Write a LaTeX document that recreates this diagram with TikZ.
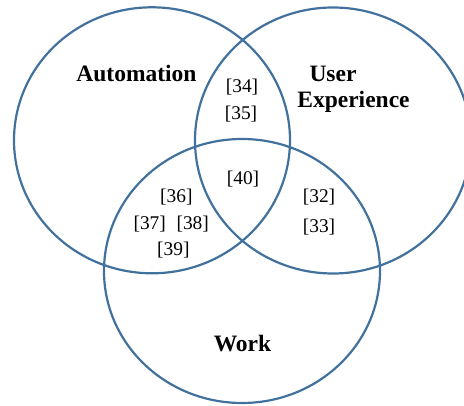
\documentclass[tikz,border=0pt]{standalone}
\usepackage{fontspec}
\setmainfont{Liberation Serif}
\definecolor{vennblue}{RGB}{65,113,156}
\begin{document}
\begin{tikzpicture}[x=1pt,y=1pt,
  venn/.style={draw=vennblue, line width=2.2pt},
  setlabel/.style={font=\fontsize{23.5}{27}\selectfont\bfseries, anchor=base, inner sep=0pt},
  ref/.style={font=\fontsize{19.4}{23}\selectfont, anchor=base, inner sep=0pt}]
\useasboundingbox (0,0) rectangle (464,405);
% circles (image y measured downwards: y_tikz = 405 - y_img)
\coordinate (cA) at (152,264.7);
\coordinate (cU) at (333,264.5);
\coordinate (cW) at (242,134);
\draw[venn] (cA) ellipse [x radius=138, y radius=133];
\draw[venn] (cU) ellipse [x radius=138, y radius=133];
\draw[venn] (cW) ellipse [x radius=138, y radius=132];
% set labels
\node[setlabel] (lA) at (136.5,323.3) {Automation};
\node[setlabel] (lU1) at (333,323.3) {User};
\node[setlabel] (lU2) at (353.5,297.3) {Experience};
\node[setlabel] (lW) at (242.5,53.3) {Work};
% references
\node[ref] (r34) at (242,312.7) {[34]};
\node[ref] (r35) at (241,285.7) {[35]};
\node[ref] (r40) at (243,220) {[40]};
\node[ref] (r36) at (176.3,202.3) {[36]};
\node[ref] (r37) at (149.7,175.7) {[37]};
\node[ref] (r38) at (192.7,175.7) {[38]};
\node[ref] (r39) at (173.3,149) {[39]};
\node[ref] (r32) at (319,202.3) {[32]};
\node[ref] (r33) at (319,172.3) {[33]};
\end{tikzpicture}
\end{document}
